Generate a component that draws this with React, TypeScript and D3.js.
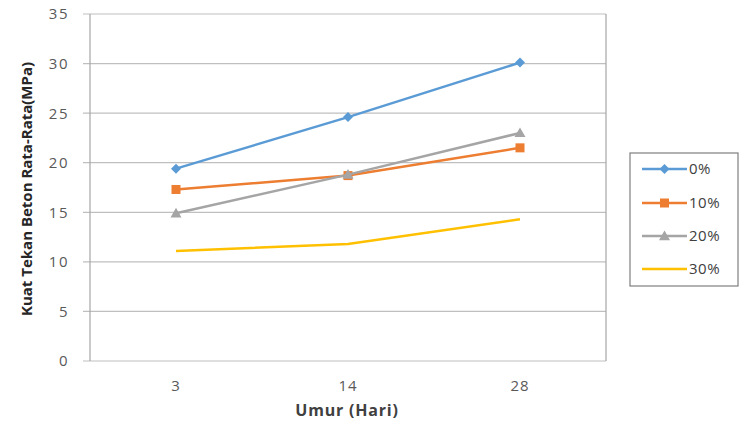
import React from "react";
import * as d3 from "d3";

const categories = ["3", "14", "28"];
const seriesNames = ["0%", "10%", "20%", "30%"];
const values0 = [19.4, 24.6, 30.1];
const values10 = [17.3, 18.7, 21.5];
const values20 = [14.9, 18.8, 23.0];
const values30 = [11.1, 11.8, 14.3];
const yTicks = [0, 5, 10, 15, 20, 25, 30, 35];
const colors = ["#5B9BD5", "#ED7D31", "#A5A5A5", "#FFC000"];
const markers = ["diamond", "square", "triangle", "none"];

const W = 745, H = 431;
const plot = { left: 90, right: 606, top: 14, bottom: 361 };

function Marker({ type, x, y, color }: { type: string; x: number; y: number; color: string }) {
  if (type === "diamond") {
    const s = 5;
    return <path d={`M${x},${y - s}L${x + s},${y}L${x},${y + s}L${x - s},${y}Z`} fill={color} />;
  }
  if (type === "square") {
    const s = 4.5;
    return <rect x={x - s} y={y - s} width={2 * s} height={2 * s} fill={color} />;
  }
  if (type === "triangle") {
    const s = 5.5;
    return <path d={`M${x},${y - s}L${x + s},${y + s * 0.75}L${x - s},${y + s * 0.75}Z`} fill={color} />;
  }
  return null;
}

export default function App() {
  const all = [values0, values10, values20, values30];
  const x = d3.scaleBand().domain(categories).range([plot.left, plot.right]);
  const y = d3.scaleLinear().domain([0, 35]).range([plot.bottom, plot.top]);
  const line = d3
    .line<number>()
    .x((_, i) => (x(categories[i]) as number) + x.bandwidth() / 2)
    .y((d) => y(d));
  const tickColor = "#595959";
  const font = "'Open Sans', sans-serif";
  const legend = { x: 630, y: 153, w: 108, h: 133 };
  const legendRows = [169, 203, 236, 269];
  return (
    <svg width={W} height={H} style={{ position: "absolute", left: 0, top: 0 }}>
      <rect x={0} y={0} width={W} height={H} fill="#fff" />
      {yTicks.map((t) => (
        <g key={t}>
          <line x1={plot.left - 7} x2={plot.right} y1={y(t)} y2={y(t)} stroke="#BFBFBF" strokeWidth={1.2} />
          <text x={69} y={y(t)} dy="0.36em" textAnchor="end" fontSize={15} letterSpacing={1.5} fill={tickColor} fontFamily={font}>
            {t}
          </text>
        </g>
      ))}
      <line x1={plot.left} x2={plot.left} y1={plot.top} y2={plot.bottom} stroke="#A6A6A6" strokeWidth={1.2} />
      <line x1={plot.right} x2={plot.right} y1={plot.top} y2={plot.bottom} stroke="#A6A6A6" strokeWidth={1.2} />
      {categories.map((c) => (
        <text key={c} x={(x(c) as number) + x.bandwidth() / 2} y={391} textAnchor="middle" fontSize={15} letterSpacing={1} fill={tickColor} fontFamily={font}>
          {c}
        </text>
      ))}
      {all.map((vals, si) => (
        <g key={si}>
          <path d={line(vals) || ""} fill="none" stroke={colors[si]} strokeWidth={2.5} />
          {vals.map((v, i) => (
            <Marker key={i} type={markers[si]} x={(x(categories[i]) as number) + x.bandwidth() / 2} y={y(v)} color={colors[si]} />
          ))}
        </g>
      ))}
      <text x={347} y={416} textAnchor="middle" fontSize={16} letterSpacing={0.8} fontWeight="bold" fill="#404040" fontFamily={font}>
        Umur (Hari)
      </text>
      <text
        transform={`translate(32,189) rotate(-90)`}
        textAnchor="middle"
        fontSize={15}
        fontWeight="bold"
        fill="#262626"
        fontFamily={font}
      >
        Kuat Tekan Beton Rata-Rata(MPa)
      </text>
      <rect x={legend.x} y={legend.y} width={legend.w} height={legend.h} fill="#fff" stroke="#7F7F7F" strokeWidth={1.2} />
      {seriesNames.map((n, i) => (
        <g key={n}>
          <line x1={642} x2={687} y1={legendRows[i]} y2={legendRows[i]} stroke={colors[i]} strokeWidth={2.5} />
          <Marker type={markers[i]} x={664.5} y={legendRows[i]} color={colors[i]} />
          <text x={689} y={legendRows[i]} dy="0.36em" fontSize={15} letterSpacing={0.5} fill="#404040" fontFamily={font}>
            {n}
          </text>
        </g>
      ))}
    </svg>
  );
}
